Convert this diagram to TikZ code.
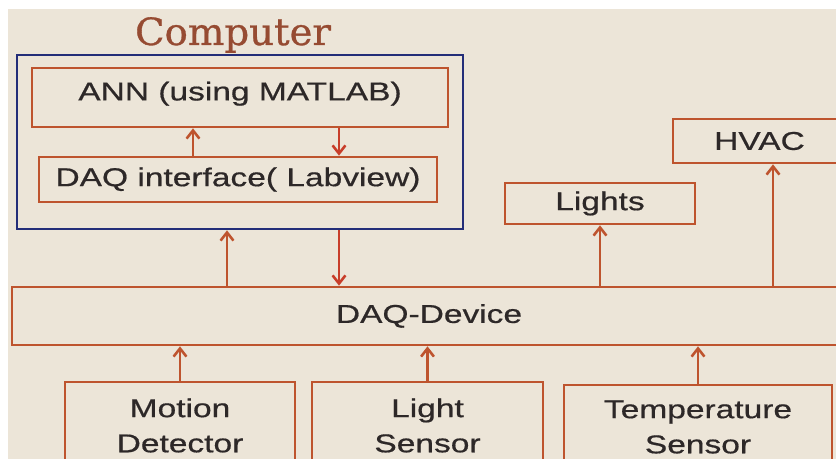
\documentclass[tikz,border=0pt]{standalone}
\usepackage{fontspec}
\setmainfont{Liberation Sans}
\newfontfamily\boxfont[FakeStretch=1.3, FakeBold=0.6]{Liberation Sans}
\newfontfamily\titlefont[FakeStretch=1.03, FakeBold=0.8]{DejaVu Serif}
\definecolor{paperBeige}{RGB}{236, 229, 216}
\definecolor{wireOrange}{RGB}{190, 84, 46}
\definecolor{wireRed}{RGB}{200, 62, 42}
\definecolor{frameBlue}{RGB}{35, 45, 120}
\definecolor{titleBrown}{RGB}{150, 75, 50}
\definecolor{inkGray}{RGB}{45, 40, 40}
\usetikzlibrary{positioning, calc, arrows.meta}

\begin{document}
\begin{tikzpicture}[
    x=0.03cm, y=-0.03cm,
    block/.style={rectangle, draw=wireOrange, line width=2.3pt, inner sep=0pt,
                  text=inkGray, align=center,
                  font=\boxfont\fontsize{22}{30}\selectfont},
    link/.style={draw=wireOrange, line width=2.2pt,
                 -{Straight Barb[length=7pt, width=11pt]}},
    downlink/.style={link, draw=wireRed},
  ]
    \useasboundingbox (0,0) rectangle (836,459);
    \clip (0,0) rectangle (836,459);
    \fill[white] (0,0) rectangle (836,459);
    \fill[paperBeige] (8,9) rectangle (836,459);

    % computer part
    \node[font=\titlefont\fontsize{32}{36}\selectfont, text=titleBrown, anchor=base] (title) at (233,45) {Computer};
    \node[rectangle, draw=frameBlue, line width=2.3pt,
          minimum width=13.38cm, minimum height=5.22cm] (comp) at (240,142) {};
    \node[block, minimum width=12.48cm, minimum height=1.77cm, text depth=11pt] (ann) at (240,97.5) {ANN (using MATLAB)};
    \node[block, minimum width=11.94cm, minimum height=1.35cm] (daqif) at (238,179.5) {DAQ interface( Labview)};

    \draw[link] ([xshift=-1.35cm]daqif.north) -- ([xshift=-1.35cm]daqif.north |- ann.south);
    \draw[downlink] ([xshift=3.03cm]daqif.north |- ann.south) -- ([xshift=3.03cm]daqif.north);

    % device and outputs
    \node[block, minimum width=25.02cm, minimum height=1.74cm] (device) at (429,316) {DAQ-Device};
    \node[block, minimum width=5.7cm, minimum height=1.23cm] (lights) at (600,203.5) {Lights};
    \node[block, minimum width=5.19cm, minimum height=1.32cm] (hvac) at (759.5,141) {HVAC};

    \draw[link] ([xshift=-0.39cm]comp.south |- device.north) -- ([xshift=-0.39cm]comp.south);
    \draw[downlink] ([xshift=2.97cm]comp.south) -- ([xshift=2.97cm]comp.south |- device.north);
    \draw[link] (lights.south |- device.north) -- (lights.south);
    \draw[link] ([xshift=0.405cm]hvac.south |- device.north) -- ([xshift=0.405cm]hvac.south);

    % sensors
    \node[block, minimum width=6.9cm, minimum height=2.61cm] (motion) at (180,425.5) {Motion\\Detector};
    \node[block, minimum width=6.93cm, minimum height=2.61cm] (lightsens) at (427.5,425.5) {Light\\Sensor};
    \node[block, minimum width=8.04cm, minimum height=2.52cm] (tempsens) at (698,427) {Temperature\\Sensor};

    \draw[link] (motion.north) -- (motion.north |- device.south);
    \draw[link] (lightsens.north) -- (lightsens.north |- device.south);
    \draw[link] (tempsens.north) -- (tempsens.north |- device.south);
  \end{tikzpicture}
\end{document}
